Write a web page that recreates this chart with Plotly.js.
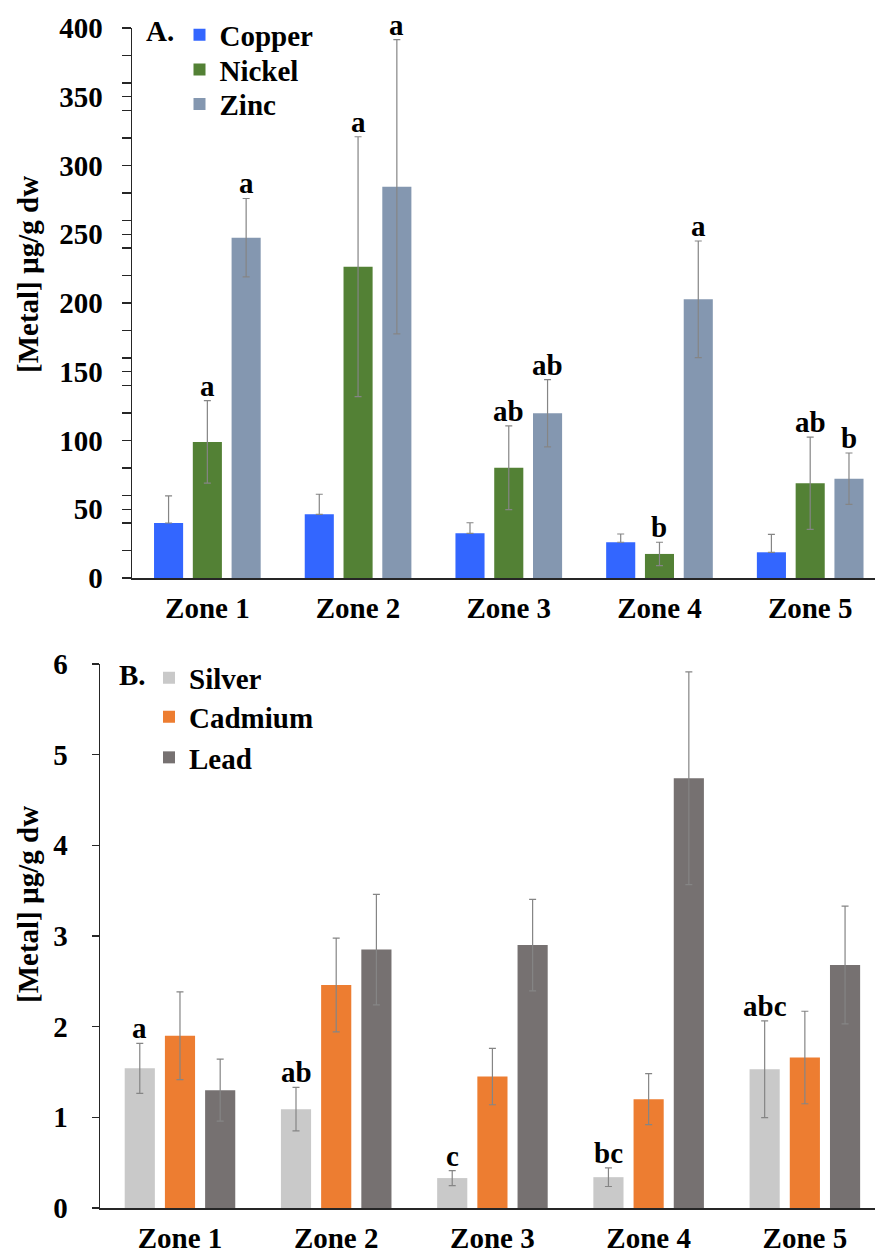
<!DOCTYPE html>
<html>
<head>
<meta charset="utf-8">
<script src="https://cdn.plot.ly/plotly-3.0.1.min.js"></script>
<style>html,body{margin:0;padding:0;background:#fff;}</style>
</head>
<body>
<div id="chart" style="width:875px;height:1249px;"></div>
<script>
// ---- Data (panel A) ----
const zones = ['Zone 1', 'Zone 2', 'Zone 3', 'Zone 4', 'Zone 5'];
const copper = [40, 46.3, 32.5, 26, 18.7];
const copperErr = [19.7, 14.6, 7.7, 6, 13];
const nickel = [99, 226.4, 80.2, 17.5, 68.9];
const nickelErr = [30, 94.5, 30.4, 8.5, 33.5];
const zinc = [247.5, 284.6, 119.8, 202.7, 72.2];
const zincErr = [28.5, 107, 24.5, 42.4, 18.7];
const nickelLetters = ['a', 'a', 'ab', 'b', 'ab'];
const zincLetters = ['a', 'a', 'ab', 'a', 'b'];

// ---- Data (panel B) ----
const silver = [1.54, 1.09, 0.33, 0.34, 1.53];
const silverErr = [0.275, 0.24, 0.083, 0.103, 0.533];
const cadmium = [1.90, 2.46, 1.45, 1.20, 1.66];
const cadmiumErr = [0.483, 0.517, 0.311, 0.281, 0.51];
const lead = [1.30, 2.85, 2.90, 4.74, 2.68];
const leadErr = [0.342, 0.61, 0.505, 1.174, 0.65];
const silverLetters = ['a', 'ab', 'c', 'bc', 'abc'];

const FONT = "'Liberation Serif', 'Times New Roman', serif";
const W = 875, H = 1249;
const px = v => v / W;
const py = v => 1 - v / H;

const errStyle = {color: '#858585', thickness: 1.2, width: 3.5};

function barTrace(name, y, err, color, xa, ya, leg, plusOnly) {
  const e = Object.assign({type: 'data', array: err, visible: true}, errStyle);
  if (plusOnly) { e.symmetric = false; e.arrayminus = err.map(() => 0); }
  return {
    type: 'bar', name: name, x: zones, y: y, xaxis: xa, yaxis: ya,
    marker: {color: color}, error_y: e, legend: leg, showlegend: true,
    hoverinfo: 'y+name'
  };
}

const data = [
  barTrace('Copper', copper, copperErr, '#3366FF', 'x', 'y', 'legend', true),
  barTrace('Nickel', nickel, nickelErr, '#538135', 'x', 'y', 'legend2', false),
  barTrace('Zinc', zinc, zincErr, '#8497B0', 'x', 'y', 'legend3', false),
  barTrace('Silver', silver, silverErr, '#C9C9C9', 'x2', 'y2', 'legend4', false),
  barTrace('Cadmium', cadmium, cadmiumErr, '#ED7D31', 'x2', 'y2', 'legend5', false),
  barTrace('Lead', lead, leadErr, '#767171', 'x2', 'y2', 'legend6', false)
];

const BARGAP = 0.228;
const step = (1 - BARGAP) / 3;
const tf = {family: FONT, size: 29, color: '#000', weight: 'bold'};

const annotations = [];
function letters(arr, vals, errs, seriesIdx, xr, yr) {
  arr.forEach((t, i) => {
    annotations.push({
      xref: xr, yref: yr, x: i + (seriesIdx - 1) * step, y: vals[i] + errs[i],
      text: t, showarrow: false, yanchor: 'bottom', xanchor: 'center', yshift: -3,
      font: tf
    });
  });
}
letters(nickelLetters, nickel, nickelErr, 1, 'x', 'y');
letters(zincLetters, zinc, zincErr, 2, 'x', 'y');
letters(silverLetters, silver, silverErr, 0, 'x2', 'y2');

annotations.push({xref: 'paper', yref: 'paper', x: px(160), y: py(31), text: 'A.', showarrow: false, xanchor: 'center', yanchor: 'middle', font: tf});
annotations.push({xref: 'paper', yref: 'paper', x: px(132), y: py(675), text: 'B.', showarrow: false, xanchor: 'center', yanchor: 'middle', font: tf});
annotations.push({xref: 'paper', yref: 'paper', x: px(28), y: py(275), text: '[Metal] µg/g dw', textangle: -90, showarrow: false, xanchor: 'center', yanchor: 'middle', font: tf});
annotations.push({xref: 'paper', yref: 'paper', x: px(28), y: py(905), text: '[Metal] µg/g dw', textangle: -90, showarrow: false, xanchor: 'center', yanchor: 'middle', font: tf});

function legendAt(xc, yc) {
  return {x: px(xc - 25), y: py(yc), xanchor: 'left', yanchor: 'middle', font: tf,
          bgcolor: 'rgba(0,0,0,0)', borderwidth: 0};
}

const axLine = {showline: true, linecolor: '#262626', linewidth: 1.5, showgrid: false, zeroline: false};

const layout = {
  width: W, height: H,
  margin: {l: 0, r: 0, t: 0, b: 0},
  paper_bgcolor: '#fff', plot_bgcolor: '#fff',
  barmode: 'group', bargap: BARGAP, bargroupgap: 0.25,
  showlegend: true,
  legend: legendAt(204.5, 35),
  legend2: legendAt(204.5, 69.6),
  legend3: legendAt(204.5, 104.1),
  legend4: legendAt(174, 678),
  legend5: legendAt(174, 717),
  legend6: legendAt(174, 757.5),
  xaxis: Object.assign({}, axLine, {
    domain: [px(132), 1], anchor: 'y', type: 'category', range: [-0.5, 4.43],
    ticks: '', tickfont: tf, ticklabelstandoff: 4
  }),
  yaxis: Object.assign({}, axLine, {
    domain: [py(578), py(28)], anchor: 'x', range: [0, 400], tick0: 0, dtick: 50,
    ticks: 'outside', ticklen: 9, tickwidth: 1.3, tickcolor: '#262626',
    minor: {tick0: 0, dtick: 20, ticks: 'outside', ticklen: 9, tickwidth: 1.3, tickcolor: '#262626', showgrid: false},
    tickfont: tf, ticklabelstandoff: 13
  }),
  xaxis2: Object.assign({}, axLine, {
    domain: [px(100), 1], anchor: 'y2', type: 'category', range: [-0.512, 4.449],
    ticks: '', tickfont: tf, ticklabelstandoff: 4
  }),
  yaxis2: Object.assign({}, axLine, {
    domain: [py(1208), py(664)], anchor: 'x2', range: [0, 6], tick0: 0, dtick: 1,
    ticks: 'outside', ticklen: 7, tickwidth: 1.3, tickcolor: '#262626',
    tickfont: tf, ticklabelstandoff: 18
  }),
  annotations: annotations
};

Plotly.newPlot('chart', data, layout, {displayModeBar: false, staticPlot: true});
</script>
</body>
</html>
